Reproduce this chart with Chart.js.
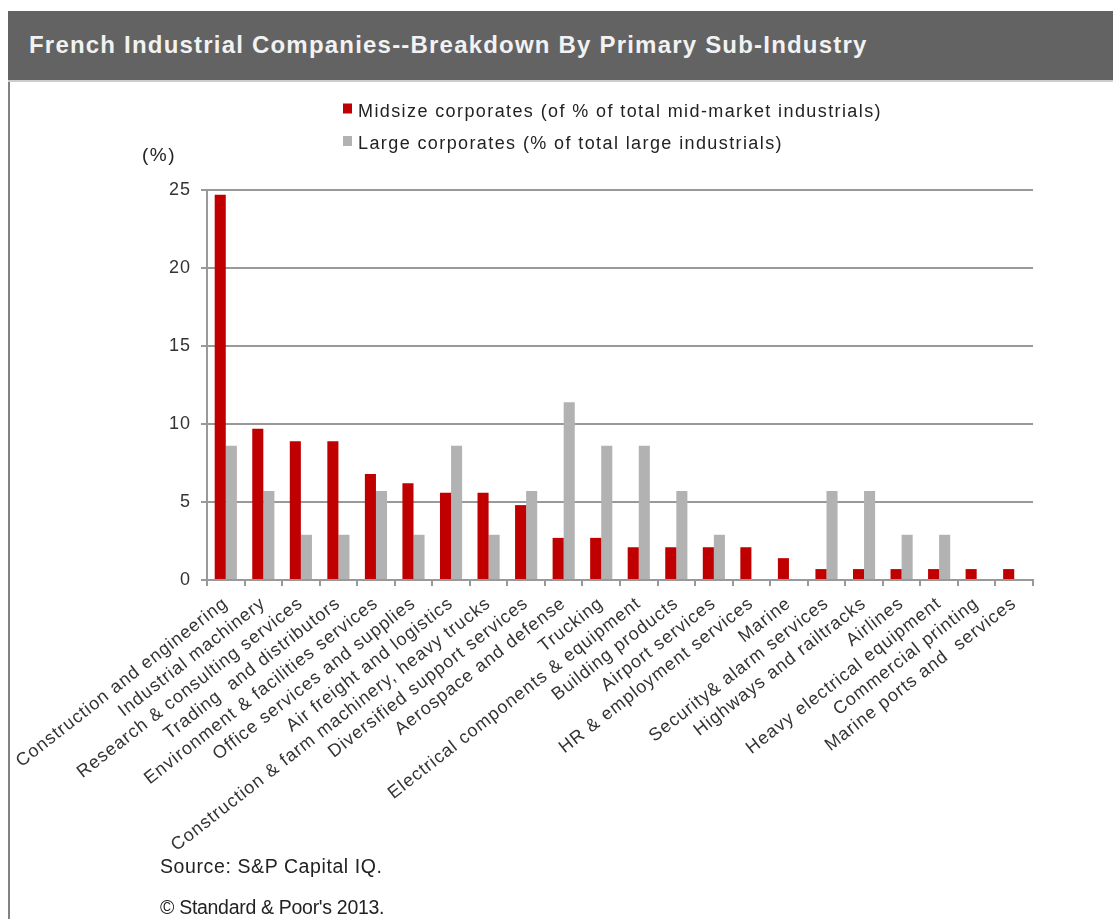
<!DOCTYPE html>
<html>
<head>
<meta charset="utf-8">
<title>French Industrial Companies--Breakdown By Primary Sub-Industry</title>
<script src="https://cdn.jsdelivr.net/npm/chart.js@4.4.1/dist/chart.umd.min.js"></script>
<style>
  html, body { margin: 0; padding: 0; background: #ffffff; }
  #wrap { position: relative; width: 1113px; height: 919px; overflow: hidden;
          font-family: "Liberation Sans", Arial, Helvetica, sans-serif; }
  #chart { position: absolute; left: 0; top: 0; }
  #bar { position: absolute; left: 8px; top: 11px; width: 1105px; height: 71px;
         background: #636363; border-bottom: 2px solid #cdcdcd; box-sizing: border-box; }
  #bar h1 { position: absolute; left: 21px; top: 22px; margin: 0; font-size: 24px; line-height: 24px;
            font-weight: bold; color: #f2f2f2; letter-spacing: 1.2px; white-space: nowrap; }
  #frame { position: absolute; left: 8px; top: 82px; width: 0; height: 837px; border-left: 2px solid #828282; }
  .note { position: absolute; left: 160px; font-size: 19.5px; line-height: 20px; color: #222;
          white-space: nowrap; }
</style>
</head>
<body>
<div id="wrap">
  <canvas id="chart" width="1113" height="919"></canvas>
  <div id="bar"><h1>French Industrial Companies--Breakdown By Primary Sub-Industry</h1></div>
  <div id="frame"></div>
  <div class="note" style="top:856px; letter-spacing:0.6px">Source: S&amp;P Capital IQ.</div>
  <div class="note" style="top:897px; letter-spacing:-0.3px">© Standard &amp; Poor's 2013.</div>
</div>
<script>
// Sub-industries along the horizontal axis
const categories = [
  "Construction and engineering",
  "Industrial machinery",
  "Research & consulting services",
  "Trading  and distributors",
  "Environment & facilities services",
  "Office services and supplies",
  "Air freight and logistics",
  "Construction & farm machinery, heavy trucks",
  "Diversified support services",
  "Aerospace and defense",
  "Trucking",
  "Electrical components & equipment",
  "Building products",
  "Airport services",
  "HR & employment services",
  "Marine",
  "Security& alarm services",
  "Highways and railtracks",
  "Airlines",
  "Heavy electrical equipment",
  "Commercial printing",
  "Marine ports and  services"
];

// Share of mid-market industrials (%)
const midsizeShares = [24.7, 9.7, 8.9, 8.9, 6.8, 6.2, 5.6, 5.6, 4.8, 2.7, 2.7,
                       2.1, 2.1, 2.1, 2.1, 1.4, 0.7, 0.7, 0.7, 0.7, 0.7, 0.7];

// Share of large industrials (%)
const largeShares = [8.6, 5.7, 2.9, 2.9, 5.7, 2.9, 8.6, 2.9, 5.7, 11.4, 8.6,
                     8.6, 5.7, 2.9, 0, 0, 5.7, 5.7, 2.9, 2.9, 0, 0];

const seriesNames = [
  "Midsize corporates (of % of total mid-market industrials)",
  "Large corporates (% of total large industrials)"
];
const seriesColors = ["#c00000", "#b2b2b2"];

const yTickValues = [0, 5, 10, 15, 20, 25];
const yUnitLabel = "(%)";

const FONT = '"Liberation Sans", Arial, Helvetica, sans-serif';
const AXIS_GREY = "#999999";

// Slightly open tracking for all canvas text
const tracking = {
  id: "tracking",
  beforeLayout(chart) { chart.ctx.letterSpacing = "1px"; },
  beforeDraw(chart) { chart.ctx.letterSpacing = "1px"; }
};

// Stacked legend and unit caption above the plot
const stackedLegend = {
  id: "stackedLegend",
  afterDraw(chart) {
    const ctx = chart.ctx;
    ctx.save();
    ctx.textAlign = "left";
    ctx.textBaseline = "alphabetic";
    ctx.font = "18px " + FONT;
    ctx.letterSpacing = "1.4px";
    chart.data.datasets.forEach((ds, i) => {
      const top = 103.5 + i * 32.5;
      ctx.fillStyle = ds.backgroundColor;
      ctx.fillRect(343, top, 9, 10);
      ctx.fillStyle = "#222222";
      ctx.fillText(ds.label, 358, top + 13.3);
    });
    ctx.font = "19px " + FONT;
    ctx.letterSpacing = "1.5px";
    ctx.fillStyle = "#222222";
    ctx.fillText(yUnitLabel, 142, 161);
    ctx.restore();
  }
};

new Chart(document.getElementById("chart"), {
  type: "bar",
  data: {
    labels: categories,
    datasets: [
      { label: seriesNames[0], data: midsizeShares, backgroundColor: seriesColors[0] },
      { label: seriesNames[1], data: largeShares, backgroundColor: seriesColors[1] }
    ]
  },
  options: {
    responsive: false,
    animation: false,
    devicePixelRatio: 1,
    categoryPercentage: 0.59,
    barPercentage: 1.0,
    layout: { padding: { left: 147, right: 80, top: 190, bottom: 0 } },
    plugins: {
      legend: { display: false },
      title: { display: false },
      tooltip: { enabled: false }
    },
    scales: {
      x: {
        afterFit(scale) { scale.height = 339; },
        grid: {
          offset: true,
          drawOnChartArea: false,
          drawTicks: true,
          tickLength: 6,
          color: AXIS_GREY,
          lineWidth: 2
        },
        border: { display: true, color: AXIS_GREY, width: 2 },
        ticks: {
          autoSkip: false,
          minRotation: 38,
          maxRotation: 38,
          padding: 7,
          color: "#333333",
          font: { family: FONT, size: 18 }
        }
      },
      y: {
        min: 0,
        max: 25,
        afterFit(scale) { scale.width = 60; },
        afterBuildTicks(scale) { scale.ticks = yTickValues.map(v => ({ value: v })); },
        grid: {
          drawTicks: true,
          tickLength: 6,
          color: AXIS_GREY,
          lineWidth: 2
        },
        border: { display: true, color: AXIS_GREY, width: 2 },
        ticks: {
          padding: 10,
          color: "#333333",
          font: { family: FONT, size: 18 }
        }
      }
    }
  },
  plugins: [tracking, stackedLegend]
});
</script>
</body>
</html>
